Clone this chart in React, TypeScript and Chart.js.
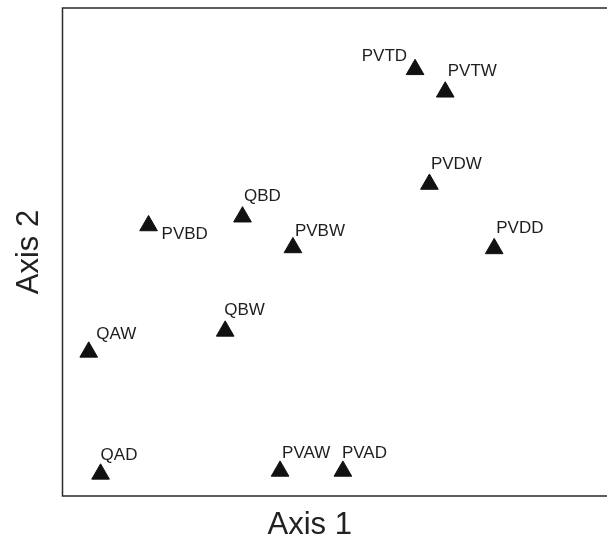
import React, { useEffect, useRef } from "react";
import { Chart, registerables } from "chart.js";

Chart.register(...registerables);

// Site labels and ordination scores (arbitrary units, 0-100 along each axis)
const siteLabels = ["PVTD", "PVTW", "PVDW", "PVDD", "QBD", "PVBD", "PVBW", "QBW", "QAW", "QAD", "PVAW", "PVAD"];
const axis1Scores = [71.3, 77.4, 74.2, 87.3, 36.4, 17.4, 46.6, 32.9, 5.3, 7.7, 44.0, 56.7];
const axis2Scores = [87.4, 82.8, 63.9, 50.7, 57.2, 55.4, 50.9, 33.8, 29.5, 4.5, 5.1, 5.1];
// label placement relative to each marker (pixels): dx, dy, align
const labelDx = [-8, 2.5, 1.5, 2, 1.5, 13, 2, -1, 7.5, 0, 2, -1];
const labelDy = [-13, -20.5, -20, -20, -20.5, 8.5, -16.5, -21, -18, -19, -18, -18];
const labelAlign = ["right", "left", "left", "left", "left", "left", "left", "left", "left", "left", "left", "left"];

const axisXTitle = "Axis 1";
const axisYTitle = "Axis 2";

const labelPlugin = {
  id: "siteLabels",
  afterDatasetsDraw(chart: any) {
    const ctx = chart.ctx;
    const meta = chart.getDatasetMeta(0);
    ctx.save();
    ctx.font = "17px 'Liberation Sans', Arial, sans-serif";
    ctx.fillStyle = "#1e1e1e";
    ctx.textBaseline = "middle";
    meta.data.forEach((pt: any, i: number) => {
      ctx.textAlign = labelAlign[i];
      ctx.fillText(siteLabels[i], pt.x + labelDx[i], pt.y + labelDy[i]);
    });
    ctx.restore();
  },
};

// frame: left, top and bottom sides; the box runs off the right edge of the picture
const framePlugin = {
  id: "frame",
  afterDraw(chart: any) {
    const { ctx, chartArea } = chart;
    ctx.save();
    ctx.strokeStyle = "#2a2a2a";
    ctx.lineWidth = 1.5;
    ctx.beginPath();
    ctx.moveTo(chart.width + 2, chartArea.top);
    ctx.lineTo(chartArea.left, chartArea.top);
    ctx.lineTo(chartArea.left, chartArea.bottom);
    ctx.lineTo(chart.width + 2, chartArea.bottom);
    ctx.stroke();
    ctx.restore();
  },
};

export default function App() {
  const canvasRef = useRef<HTMLCanvasElement | null>(null);

  useEffect(() => {
    document.body.style.margin = "0";
    const canvas = canvasRef.current;
    if (!canvas) return;
    const data = axis1Scores.map((x, i) => ({ x, y: axis2Scores[i] }));
    const chart = new Chart(canvas, {
      type: "scatter",
      data: {
        datasets: [
          {
            data,
            pointStyle: "triangle",
            pointRadius: 10.2,
            pointHoverRadius: 10.2,
            backgroundColor: "#111",
            borderColor: "#111",
            borderWidth: 1,
            clip: false,
          },
        ],
      },
      options: {
        responsive: false,
        animation: false,
        devicePixelRatio: 1,
        layout: { autoPadding: false, padding: { top: 8, right: 50, left: 0, bottom: 0 } },
        plugins: { legend: { display: false }, tooltip: { enabled: false } },
        scales: {
          x: {
            type: "linear",
            min: 0,
            max: 100,
            ticks: { display: false },
            grid: { display: false },
            border: { display: false },
            title: {
              display: true,
              text: axisXTitle,
              color: "#222",
              font: { family: "'Liberation Sans', Arial, sans-serif", size: 31 },
              padding: { top: 0, bottom: -5 },
            },
            afterFit(scale: any) {
              scale.height = 43;
              scale.paddingLeft = 0;
              scale.paddingRight = 0;
            },
          },
          y: {
            type: "linear",
            min: 0,
            max: 100,
            ticks: { display: false },
            grid: { display: false },
            border: { display: false },
            title: {
              display: true,
              text: axisYTitle,
              color: "#222",
              font: { family: "'Liberation Sans', Arial, sans-serif", size: 31 },
              padding: { top: 11, bottom: 0 },
            },
            afterFit(scale: any) {
              scale.width = 62.5;
              scale.paddingTop = 0;
              scale.paddingBottom = 0;
            },
          },
        },
      },
      plugins: [labelPlugin, framePlugin],
    });
    return () => chart.destroy();
  }, []);

  return (
    <div style={{ width: 607, height: 539 }}>
      <canvas ref={canvasRef} width={607} height={539} style={{ display: "block" }} />
    </div>
  );
}
